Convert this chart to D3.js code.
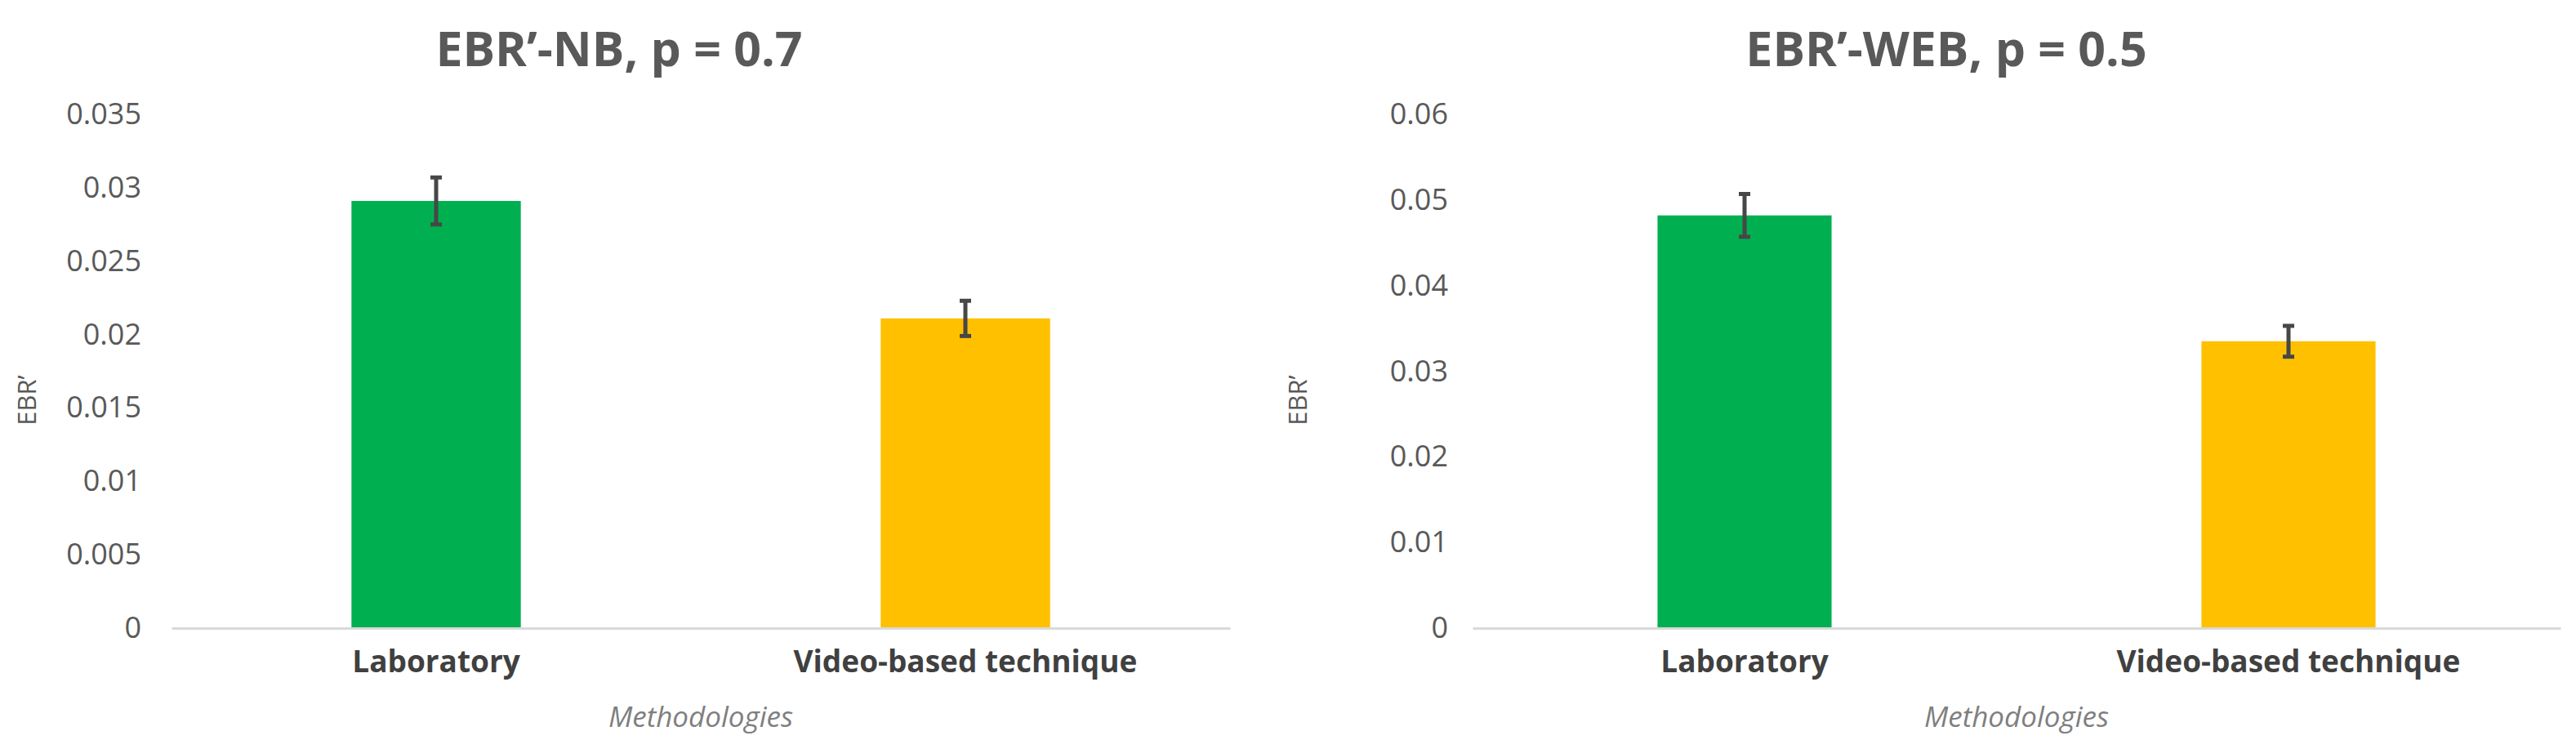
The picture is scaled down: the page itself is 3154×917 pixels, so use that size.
<!DOCTYPE html>
<html>
<head>
<meta charset="utf-8">
<script src="https://cdnjs.cloudflare.com/ajax/libs/d3/7.8.5/d3.min.js"></script>
<style>
  body { margin: 0; background: #fff; }
  text { font-family: "Open Sans", Roboto, sans-serif; }
</style>
</head>
<body>
<script>
// data
var categories = ["Laboratory", "Video-based technique"];
var colors = ["#00B050", "#FFC000"];

var nbTitle = "EBR\u2019-NB, p = 0.7";
var nbValues = [0.0291, 0.0211];
var nbErrors = [0.0016, 0.0012];
var nbTicks = [0, 0.005, 0.01, 0.015, 0.02, 0.025, 0.03, 0.035];

var webTitle = "EBR\u2019-WEB, p = 0.5";
var webValues = [0.0482, 0.0335];
var webErrors = [0.0025, 0.0018];
var webTicks = [0, 0.01, 0.02, 0.03, 0.04, 0.05, 0.06];

var yLabel = "EBR\u2019";
var xLabel = "Methodologies";

var svgWidth = 3154;
var svgHeight = 917;

var svg = d3.select("body")
            .append("svg")
            .attr("width", svgWidth)
            .attr("height", svgHeight);

function drawChart(opts) {
  var top = 140, bottom = 769;

  var xScale = d3.scaleBand()
                 .domain(categories)
                 .range([opts.left, opts.right])
                 .paddingInner(0.68)
                 .paddingOuter(0.34);

  var yScale = d3.scaleLinear()
                 .domain([0, d3.max(opts.ticks)])
                 .range([bottom, top]);

  var g = svg.append("g");

  // title
  g.append("text")
   .attr("x", opts.titleX)
   .attr("y", 81)
   .attr("text-anchor", "middle")
   .attr("font-size", 59)
   .attr("font-weight", "bold")
   .attr("fill", "#595959")
   .text(opts.title);

  // y axis (labels only)
  var yAxis = d3.axisLeft(yScale)
                .tickValues(opts.ticks)
                .tickSize(0)
                .tickPadding(opts.left - opts.labelRight)
                .tickFormat(function(d) { return String(d); });

  var ya = g.append("g")
            .attr("transform", "translate(" + opts.left + ",0)")
            .call(yAxis);
  ya.select(".domain").remove();
  ya.selectAll("text")
    .attr("font-size", 36)
    .attr("fill", "#595959")
    .attr("font-family", "Roboto, sans-serif");

  // bars
  g.selectAll("rect.bar")
   .data(opts.values)
   .enter()
   .append("rect")
   .attr("class", "bar")
   .attr("x", function(d, i) { return xScale(categories[i]); })
   .attr("y", function(d) { return yScale(d); })
   .attr("width", xScale.bandwidth())
   .attr("height", function(d) { return bottom - yScale(d); })
   .attr("fill", function(d, i) { return colors[i]; });

  // x axis baseline + category labels
  var xAxis = d3.axisBottom(xScale)
                .tickSize(0)
                .tickPadding(28);
  var xa = g.append("g")
            .attr("transform", "translate(0," + bottom + ")")
            .call(xAxis);
  xa.select(".domain")
    .attr("stroke", "#d9d9d9")
    .attr("stroke-width", 3);
  xa.selectAll("text")
    .attr("font-size", 37)
    .attr("font-weight", "bold")
    .attr("fill", "#404040")
    .attr("font-family", "'Open Sans', sans-serif");

  // error bars
  var eb = g.selectAll("g.err")
            .data(opts.values)
            .enter()
            .append("g")
            .attr("class", "err")
            .attr("stroke", "#474747")
            .attr("stroke-width", 5);
  eb.append("line")
    .attr("x1", function(d, i) { return xScale(categories[i]) + xScale.bandwidth() / 2; })
    .attr("x2", function(d, i) { return xScale(categories[i]) + xScale.bandwidth() / 2; })
    .attr("y1", function(d, i) { return yScale(d - opts.errors[i]); })
    .attr("y2", function(d, i) { return yScale(d + opts.errors[i]); });
  [-1, 1].forEach(function(s) {
    eb.append("line")
      .attr("x1", function(d, i) { return xScale(categories[i]) + xScale.bandwidth() / 2 - 7; })
      .attr("x2", function(d, i) { return xScale(categories[i]) + xScale.bandwidth() / 2 + 7; })
      .attr("y1", function(d, i) { return yScale(d + s * opts.errors[i]); })
      .attr("y2", function(d, i) { return yScale(d + s * opts.errors[i]); });
  });

  // axis titles
  g.append("text")
   .attr("transform", "translate(" + opts.yLabelX + ",490) rotate(-90)")
   .attr("text-anchor", "middle")
   .attr("font-size", 31)
   .attr("fill", "#595959")
   .text(yLabel);

  g.append("text")
   .attr("x", (opts.left + opts.right) / 2)
   .attr("y", 890)
   .attr("text-anchor", "middle")
   .attr("font-size", 35)
   .attr("font-style", "italic")
   .attr("fill", "#7f7f7f")
   .text(xLabel);
}

drawChart({
  title: nbTitle, titleX: 758, values: nbValues, errors: nbErrors, ticks: nbTicks,
  left: 210, right: 1506, labelRight: 173, yLabelX: 44
});

drawChart({
  title: webTitle, titleX: 2383, values: webValues, errors: webErrors, ticks: webTicks,
  left: 1803, right: 3135, labelRight: 1773, yLabelX: 1600
});
</script>
</body>
</html>
